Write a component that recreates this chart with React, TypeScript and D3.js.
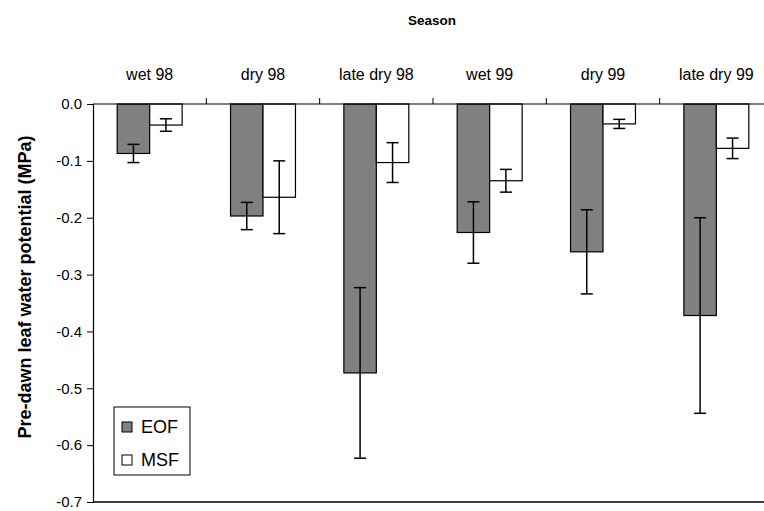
import React, { useEffect, useRef } from "react";
import * as d3 from "d3";

const categories = ["wet 98", "dry 98", "late dry 98", "wet 99", "dry 99", "late dry 99"];
const seriesNames = ["EOF", "MSF"];
const eofValues = [-0.087, -0.197, -0.473, -0.226, -0.26, -0.372];
const eofErrors = [0.016, 0.024, 0.15, 0.054, 0.074, 0.172];
const msfValues = [-0.037, -0.164, -0.103, -0.135, -0.035, -0.078];
const msfErrors = [0.011, 0.064, 0.035, 0.02, 0.008, 0.018];
const yTicks = [0, -0.1, -0.2, -0.3, -0.4, -0.5, -0.6, -0.7];

const fills = ["#808080", "#ffffff"];
const font = "'Liberation Sans', Arial, sans-serif";

const App = () => {
  const svgRef = useRef<SVGSVGElement>(null);

  useEffect(() => {
    const svg = d3.select(svgRef.current);
    svg.selectAll("*").remove();

    const width = 764;
    const height = 511;
    const margin = { top: 104, left: 93, right: -9, bottom: 9 };

    const x = d3
      .scaleBand()
      .domain(categories)
      .range([margin.left, width - margin.right])
      .paddingInner(0)
      .paddingOuter(0);

    const x1 = d3
      .scaleBand()
      .domain(seriesNames)
      .range([0, x.bandwidth()])
      .paddingInner(0)
      .paddingOuter(0.745);

    const y = d3
      .scaleLinear()
      .domain([-0.7, 0])
      .range([height - margin.bottom, margin.top]);

    const data = categories.map((c, i) => ({
      cat: c,
      items: [
        { name: "EOF", value: eofValues[i], err: eofErrors[i] },
        { name: "MSF", value: msfValues[i], err: msfErrors[i] },
      ],
    }));

    // Title
    svg
      .append("text")
      .attr("x", 432)
      .attr("y", 25)
      .attr("text-anchor", "middle")
      .attr("font-family", font)
      .attr("font-size", 13.5)
      .attr("font-weight", "bold")
      .text("Season");

    // bars
    const groups = svg
      .append("g")
      .selectAll("g")
      .data(data)
      .join("g")
      .attr("transform", (d) => `translate(${x(d.cat)},0)`);

    groups
      .selectAll("rect")
      .data((d) => d.items)
      .join("rect")
      .attr("x", (d) => x1(d.name)!)
      .attr("y", y(0))
      .attr("width", x1.bandwidth())
      .attr("height", (d) => y(d.value) - y(0))
      .attr("fill", (d, i) => fills[i])
      .attr("stroke", "#000")
      .attr("stroke-width", 1.2);

    // error bars
    const eb = groups
      .selectAll("g.err")
      .data((d) => d.items)
      .join("g")
      .attr("class", "err")
      .attr("transform", (d) => `translate(${x1(d.name)! + x1.bandwidth() / 2},0)`)
      .attr("stroke", "#000")
      .attr("stroke-width", 1.5);
    eb.append("line")
      .attr("y1", (d) => y(d.value + d.err))
      .attr("y2", (d) => y(d.value - d.err));
    eb.append("line")
      .attr("x1", -6)
      .attr("x2", 6)
      .attr("y1", (d) => y(d.value + d.err))
      .attr("y2", (d) => y(d.value + d.err));
    eb.append("line")
      .attr("x1", -6)
      .attr("x2", 6)
      .attr("y1", (d) => y(d.value - d.err))
      .attr("y2", (d) => y(d.value - d.err));

    // top category axis
    const topAxis = svg.append("g");
    topAxis
      .append("line")
      .attr("x1", margin.left)
      .attr("x2", width - margin.right)
      .attr("y1", y(0))
      .attr("y2", y(0))
      .attr("stroke", "#000")
      .attr("stroke-width", 1.2);
    topAxis
      .selectAll("line.tick")
      .data(categories.slice(1))
      .join("line")
      .attr("class", "tick")
      .attr("x1", (d) => x(d)!)
      .attr("x2", (d) => x(d)!)
      .attr("y1", y(0))
      .attr("y2", y(0) - 6)
      .attr("stroke", "#000");
    topAxis
      .selectAll("text")
      .data(categories)
      .join("text")
      .attr("x", (d) => x(d)! + x.bandwidth() / 2)
      .attr("y", 80)
      .attr("text-anchor", "middle")
      .attr("font-family", font)
      .attr("font-size", 16)
      .text((d) => d);

    // bottom line
    svg
      .append("line")
      .attr("x1", margin.left)
      .attr("x2", width - margin.right)
      .attr("y1", y(-0.7))
      .attr("y2", y(-0.7))
      .attr("stroke", "#000")
      .attr("stroke-width", 1.5);

    // y axis
    const yAxis = svg
      .append("g")
      .attr("transform", `translate(${margin.left},0)`)
      .call(
        d3
          .axisLeft(y)
          .tickValues(yTicks)
          .tickSize(6)
          .tickPadding(5)
          .tickFormat((d) => (d as number).toFixed(1))
      );
    yAxis.select(".domain").attr("stroke-width", 1.2);
    yAxis
      .selectAll("text")
      .attr("fill", "#000")
      .style("font-family", font)
      .style("font-size", "15px");

    svg
      .append("text")
      .attr("transform", `translate(31,287) rotate(-90)`)
      .attr("text-anchor", "middle")
      .attr("font-family", font)
      .attr("font-size", 18)
      .attr("font-weight", "bold")
      .text("Pre-dawn leaf water potential (MPa)");

    // legend
    const legend = svg.append("g").attr("transform", "translate(114,407)");
    legend
      .append("rect")
      .attr("width", 76)
      .attr("height", 68)
      .attr("fill", "#fff")
      .attr("stroke", "#000");
    const li = legend
      .selectAll("g")
      .data(seriesNames)
      .join("g")
      .attr("transform", (d, i) => `translate(8,${15 + i * 33})`);
    li.append("rect")
      .attr("width", 10)
      .attr("height", 10)
      .attr("fill", (d, i) => fills[i])
      .attr("stroke", "#000");
    li.append("text")
      .attr("x", 19)
      .attr("y", 11)
      .attr("font-family", font)
      .attr("font-size", 18)
      .text((d) => d);
  }, []);

  return (
    <svg
      ref={svgRef}
      width={764}
      height={511}
      style={{ position: "absolute", left: 0, top: 0, background: "#fff" }}
    />
  );
};

export default App;
